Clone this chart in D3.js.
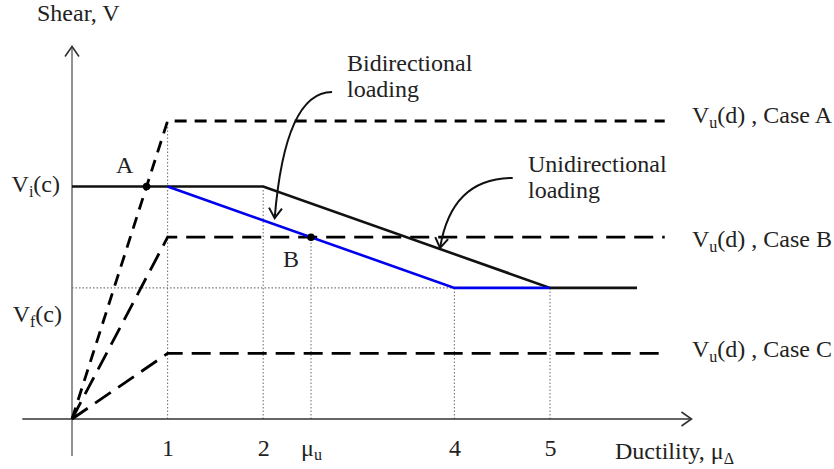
<!DOCTYPE html>
<html>
<head>
<meta charset="utf-8">
<script src="https://cdn.jsdelivr.net/npm/d3@7"></script>
<style>
body{margin:0;background:#fff;}
text{font-family:"Liberation Serif","Times New Roman",serif;fill:#222;}
</style>
</head>
<body>
<div class="canvas"></div>
<script>
const W=834, H=469;

// levels (shear, arbitrary units)
const caseNames=["Case A","Case B","Case C"];
const caseVu=[100,61,22];
const Vi=78, Vf=44;
const muU=2.5;
// unidirectional (black) and bidirectional (blue) envelopes
const uniX=[0,2,5,5.91], uniY=[Vi,Vi,Vf,Vf];
const biX=[1,4,5], biY=[Vi,Vf,Vf];
const tickVals=[1,2,muU,4,5];
const tickLabels=["1","2","μu","4","5"];
const dashEnd=6.2;

const x=d3.scaleLinear().domain([0,5]).range([72,550]);
const y=d3.scaleLinear().domain([0,100]).range([419,121]);

const svg=d3.select(".canvas").append("svg")
  .attr("width",W).attr("height",H);

const defs=svg.append("defs");
defs.append("marker").attr("id","vhead")
  .attr("markerUnits","userSpaceOnUse")
  .attr("viewBox","-12 -8 14 16").attr("refX",0).attr("refY",0)
  .attr("markerWidth",14).attr("markerHeight",16).attr("orient","auto")
  .append("path").attr("d","M-10,-6.5L0,0L-10,6.5")
  .attr("fill","none").attr("stroke","#111").attr("stroke-width",2);
defs.append("marker").attr("id","axhead")
  .attr("markerUnits","userSpaceOnUse")
  .attr("viewBox","-12 -8 14 16").attr("refX",0).attr("refY",0)
  .attr("markerWidth",14).attr("markerHeight",16).attr("orient","auto")
  .append("path").attr("d","M-10,-7L0,0L-10,7")
  .attr("fill","none").attr("stroke","#333").attr("stroke-width",1.6);

const line=d3.line().x(d=>x(d[0])).y(d=>y(d[1]));

// dotted guide lines
const guides=[
  [[1,0],[1,caseVu[0]]],
  [[2,0],[2,Vi]],
  [[muU,0],[muU,caseVu[1]]],
  [[4,0],[4,Vf]],
  [[5,0],[5,Vf]],
  [[0,Vf],[4,Vf]]
];
svg.selectAll(".guide").data(guides).enter().append("path")
  .attr("class","guide").attr("d",line)
  .attr("fill","none").attr("stroke","#777").attr("stroke-width",1.1)
  .attr("stroke-dasharray","1.5,2");

// axes
svg.append("path").attr("d",line([[0,-12.4],[0,125]]))
  .attr("stroke","#777").attr("stroke-width",1.6).attr("marker-end","url(#axhead)");
svg.append("path").attr("d",line([[-0.52,0],[6.48,0]]))
  .attr("stroke","#333").attr("stroke-width",1.6).attr("marker-end","url(#axhead)");

// case lines (dashed)
const dashes=["12,8","19,9","19,9"];
svg.selectAll(".case").data(caseVu).enter().append("path")
  .attr("class","case")
  .attr("d",v=>line([[0,0],[1,v],[dashEnd,v]]))
  .attr("fill","none").attr("stroke","#000").attr("stroke-width",2.8)
  .attr("stroke-dasharray",(d,i)=>dashes[i]);

// envelopes
svg.append("path").attr("d",line(uniX.map((d,i)=>[d,uniY[i]])))
  .attr("fill","none").attr("stroke","#111").attr("stroke-width",2.6);
svg.append("path").attr("d",line(biX.map((d,i)=>[d,biY[i]])))
  .attr("fill","none").attr("stroke","#0000ee").attr("stroke-width",2.6);

// points A and B
const pts=[[Vi/caseVu[0]*1,Vi],[muU,caseVu[1]]];
svg.selectAll(".pt").data(pts).enter().append("circle")
  .attr("cx",d=>x(d[0])).attr("cy",d=>y(d[1])).attr("r",3.8).attr("fill","#000");

// curved annotation arrows: start, control, tip
const arrows=[
  [[2.72,109.7],[2.23,109.7],[2.12,67.4]],
  [[4.61,80.9],[3.97,80.9],[3.85,57.4]]
];
svg.selectAll(".arr").data(arrows).enter().append("path")
  .attr("d",a=>`M${x(a[0][0])},${y(a[0][1])}Q${x(a[1][0])},${y(a[1][1])} ${x(a[2][0])},${y(a[2][1])}`)
  .attr("fill","none").attr("stroke","#111").attr("stroke-width",2)
  .attr("marker-end","url(#vhead)");

const fs=24, sub=16;

// x tick labels through an axis
const xAxis=d3.axisBottom(x).tickValues(tickVals).tickSize(0).tickPadding(0)
  .tickFormat((d,i)=>tickLabels[i]);
const gx=svg.append("g").attr("transform","translate(0,456)").call(xAxis);
gx.select(".domain").remove();
gx.selectAll("text").attr("dy",0).attr("y",0)
  .style("font-family","Liberation Serif").style("font-size",fs+"px").attr("fill","#222");
gx.selectAll("text").filter((d,i)=>tickLabels[i]==="μu").each(function(){
  const t=d3.select(this).text("");
  t.append("tspan").text("μ");
  t.append("tspan").attr("font-size",sub+"px").attr("dy",4).text("u");
});

function label(xp,yp,anchor){
  return svg.append("text").attr("x",xp).attr("y",yp)
    .attr("text-anchor",anchor||"start").attr("font-size",fs);
}
function subbed(t,main,s,rest){
  t.append("tspan").text(main);
  t.append("tspan").attr("font-size",sub).attr("dy",5).text(s);
  if(rest) t.append("tspan").attr("dy",-5).text(rest);
}
label(37,21).text("Shear, V");
subbed(label(60,192,"end"),"V","i","(c)");
subbed(label(62,322,"end"),"V","f","(c)");
label(116,173).text("A");
label(283,267).text("B");
label(347,71).text("Bidirectional");
label(347,97).text("loading");
label(528,172).text("Unidirectional");
label(528,198).text("loading");

const caseBase=[123,247,357];
caseNames.forEach((n,i)=>subbed(label(692,caseBase[i]),"V","u","(d) , "+n));

subbed(label(615,459),"Ductility, μ","Δ");
</script>
</body>
</html>
